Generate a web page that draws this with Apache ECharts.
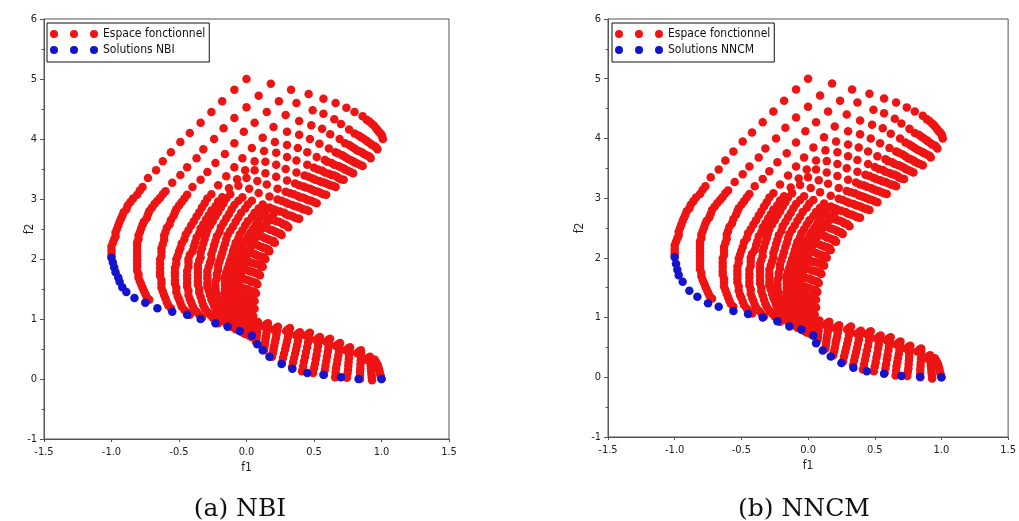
<!DOCTYPE html>
<html>
<head>
<meta charset="utf-8">
<script src="https://cdn.jsdelivr.net/npm/echarts@6/dist/echarts.min.js"></script>
<style>
  html, body { margin: 0; padding: 0; background: #fff; }
  #chart { width: 1019px; height: 521px; }
</style>
</head>
<body>
<div id="chart"></div>
<script>
// axis ticks
const xTicks = [-1.5, -1.0, -0.5, 0.0, 0.5, 1.0, 1.5]
const yTicks = [-1, 0, 1, 2, 3, 4, 5, 6]

// espace fonctionnel : arcs du haut
const arc0 = [[0.00,5.00],[-0.09,4.82],[-0.18,4.63],[-0.26,4.45],[-0.34,4.27],[-0.42,4.10],[-0.49,3.95],[-0.56,3.78],[-0.62,3.63],[-0.67,3.48],[-0.73,3.35],[-0.77,3.20],[-0.79,3.14],[-0.81,3.07],[-0.84,3.01],[-0.86,2.95],[-0.88,2.89],[-0.89,2.83],[-0.91,2.78],[-0.92,2.72],[-0.93,2.67],[-0.94,2.62],[-0.95,2.56],[-0.96,2.50],[-0.97,2.44],[-0.97,2.38],[-0.98,2.33],[-0.99,2.27],[-1.00,2.21],[-1.00,2.15],[-1.00,2.10],[-1.00,2.05]]
const arc1 = [[0.18,4.92],[0.09,4.72],[0.00,4.53],[-0.09,4.35],[-0.17,4.18],[-0.24,4.00],[-0.32,3.83],[-0.37,3.68],[-0.44,3.53],[-0.49,3.40],[-0.55,3.27],[-0.60,3.13],[-0.62,3.08],[-0.64,3.02],[-0.66,2.97],[-0.68,2.92],[-0.70,2.86],[-0.72,2.80],[-0.73,2.74],[-0.74,2.68],[-0.76,2.62],[-0.77,2.57],[-0.78,2.51],[-0.79,2.45],[-0.80,2.39],[-0.80,2.33],[-0.81,2.28],[-0.81,2.22],[-0.81,2.16],[-0.81,2.10],[-0.81,2.04],[-0.81,1.98],[-0.81,1.93],[-0.81,1.87],[-0.81,1.81],[-0.80,1.75],[-0.80,1.69],[-0.79,1.63],[-0.78,1.58],[-0.77,1.52],[-0.76,1.47],[-0.75,1.42],[-0.74,1.37],[-0.72,1.32]]
const arc2 = [[0.33,4.82],[0.24,4.63],[0.15,4.45],[0.06,4.27],[-0.02,4.12],[-0.09,3.93],[-0.16,3.75],[-0.23,3.60],[-0.29,3.45],[-0.34,3.32],[-0.40,3.20],[-0.44,3.07],[-0.46,3.01],[-0.48,2.95],[-0.50,2.89],[-0.52,2.83],[-0.53,2.78],[-0.54,2.72],[-0.56,2.65],[-0.57,2.58],[-0.59,2.52],[-0.60,2.45],[-0.61,2.39],[-0.61,2.32],[-0.62,2.25],[-0.63,2.18],[-0.63,2.12],[-0.63,2.05],[-0.64,1.99],[-0.64,1.92],[-0.64,1.85],[-0.64,1.78],[-0.64,1.72],[-0.63,1.65],[-0.63,1.59],[-0.63,1.52],[-0.62,1.46],[-0.61,1.40],[-0.60,1.34],[-0.59,1.28],[-0.58,1.23],[-0.56,1.18]]
const arc3 = [[0.46,4.75],[0.37,4.60],[0.29,4.40],[0.20,4.20],[0.12,4.02],[0.04,3.85],[-0.03,3.68],[-0.09,3.53],[-0.15,3.38],[-0.21,3.23],[-0.26,3.08],[-0.29,3.01],[-0.31,2.93],[-0.33,2.86],[-0.35,2.78],[-0.37,2.71],[-0.39,2.63],[-0.41,2.56],[-0.43,2.48],[-0.45,2.41],[-0.46,2.33],[-0.48,2.26],[-0.49,2.18],[-0.50,2.12],[-0.51,2.05],[-0.52,1.99],[-0.52,1.92],[-0.53,1.85],[-0.53,1.78],[-0.53,1.72],[-0.53,1.65],[-0.53,1.59],[-0.52,1.52],[-0.52,1.45],[-0.51,1.38],[-0.50,1.33],[-0.49,1.27],[-0.48,1.21],[-0.46,1.15],[-0.44,1.11],[-0.42,1.07]]
const arc4 = [[0.57,4.67],[0.49,4.48],[0.39,4.30],[0.30,4.12],[0.21,3.95],[0.13,3.80],[0.06,3.63],[-0.01,3.48],[-0.07,3.33],[-0.13,3.18],[-0.18,3.03],[-0.21,2.96],[-0.23,2.88],[-0.26,2.81],[-0.28,2.73],[-0.30,2.66],[-0.32,2.58],[-0.34,2.51],[-0.35,2.43],[-0.37,2.36],[-0.38,2.28],[-0.39,2.21],[-0.40,2.13],[-0.42,2.07],[-0.43,2.00],[-0.43,1.94],[-0.43,1.87],[-0.44,1.80],[-0.44,1.73],[-0.44,1.67],[-0.44,1.60],[-0.44,1.54],[-0.43,1.47],[-0.43,1.40],[-0.42,1.33],[-0.41,1.28],[-0.40,1.22],[-0.39,1.17],[-0.37,1.12],[-0.35,1.07],[-0.33,1.02]]
const arc5 = [[0.66,4.60],[0.57,4.42],[0.48,4.23],[0.39,4.07],[0.30,3.90],[0.22,3.77],[0.14,3.62],[0.06,3.48],[0.00,3.35],[-0.06,3.22],[-0.12,3.08],[-0.15,3.01],[-0.17,2.93],[-0.19,2.86],[-0.21,2.78],[-0.23,2.71],[-0.25,2.63],[-0.27,2.56],[-0.29,2.48],[-0.30,2.41],[-0.31,2.33],[-0.32,2.26],[-0.33,2.18],[-0.34,2.11],[-0.34,2.03],[-0.35,1.97],[-0.36,1.90],[-0.36,1.84],[-0.36,1.77],[-0.36,1.70],[-0.36,1.63],[-0.36,1.57],[-0.35,1.50],[-0.35,1.44],[-0.34,1.37],[-0.33,1.30],[-0.32,1.23],[-0.31,1.18],[-0.29,1.12],[-0.27,1.07],[-0.25,1.02],[-0.23,0.98],[-0.21,0.93]]
const arc6 = [[0.74,4.52],[0.65,4.33],[0.56,4.17],[0.47,4.00],[0.38,3.85],[0.30,3.70],[0.22,3.57],[0.14,3.43],[0.08,3.30],[0.02,3.17],[-0.03,3.03],[-0.06,2.97],[-0.09,2.90],[-0.11,2.83],[-0.13,2.75],[-0.15,2.68],[-0.17,2.60],[-0.19,2.53],[-0.20,2.45],[-0.22,2.38],[-0.23,2.30],[-0.24,2.23],[-0.25,2.15],[-0.26,2.08],[-0.26,2.00],[-0.27,1.94],[-0.28,1.87],[-0.29,1.80],[-0.29,1.73],[-0.29,1.67],[-0.29,1.60],[-0.29,1.54],[-0.28,1.47],[-0.27,1.40],[-0.26,1.33],[-0.25,1.28],[-0.24,1.22],[-0.23,1.16],[-0.21,1.10],[-0.19,1.05],[-0.17,1.00],[-0.16,0.95],[-0.14,0.90]]
const arc7 = [[0.80,4.45],[0.70,4.25],[0.62,4.08],[0.54,3.92],[0.45,3.78],[0.37,3.64],[0.29,3.50],[0.22,3.37],[0.15,3.24],[0.09,3.10],[0.04,2.97],[0.01,2.91],[-0.01,2.84],[-0.04,2.77],[-0.06,2.69],[-0.08,2.62],[-0.10,2.54],[-0.12,2.47],[-0.14,2.40],[-0.15,2.33],[-0.16,2.25],[-0.17,2.18],[-0.18,2.10],[-0.19,2.03],[-0.20,1.96],[-0.21,1.89],[-0.21,1.82],[-0.22,1.75],[-0.22,1.68],[-0.23,1.62],[-0.23,1.55],[-0.23,1.49],[-0.22,1.42],[-0.22,1.36],[-0.21,1.29],[-0.20,1.23],[-0.19,1.17],[-0.18,1.12],[-0.17,1.06],[-0.16,1.01],[-0.14,0.96],[-0.13,0.92],[-0.11,0.87]]
const arc8 = [[0.86,4.38],[0.76,4.16],[0.69,4.00],[0.61,3.84],[0.52,3.70],[0.45,3.57],[0.37,3.44],[0.30,3.31],[0.23,3.17],[0.17,3.04],[0.12,2.91],[0.09,2.84],[0.06,2.77],[0.04,2.70],[0.01,2.63],[-0.01,2.56],[-0.03,2.48],[-0.05,2.41],[-0.06,2.34],[-0.08,2.27],[-0.09,2.20],[-0.10,2.13],[-0.11,2.05],[-0.12,1.98],[-0.13,1.91],[-0.14,1.84],[-0.15,1.77],[-0.16,1.70],[-0.16,1.63],[-0.16,1.57],[-0.16,1.50],[-0.16,1.43],[-0.16,1.36],[-0.16,1.30],[-0.15,1.23],[-0.15,1.18],[-0.14,1.12],[-0.13,1.07],[-0.12,1.01],[-0.11,0.97],[-0.10,0.92],[-0.09,0.88],[-0.08,0.83]]
const arc9 = [[0.89,4.32],[0.80,4.09],[0.73,3.93],[0.66,3.78],[0.58,3.65],[0.50,3.52],[0.43,3.39],[0.36,3.26],[0.29,3.12],[0.23,2.99],[0.17,2.86],[0.14,2.79],[0.11,2.72],[0.09,2.65],[0.07,2.58],[0.05,2.51],[0.03,2.44],[0.01,2.37],[-0.01,2.30],[-0.03,2.23],[-0.04,2.16],[-0.05,2.09],[-0.06,2.01],[-0.07,1.94],[-0.08,1.87],[-0.09,1.80],[-0.10,1.73],[-0.11,1.66],[-0.11,1.59],[-0.12,1.53],[-0.12,1.46],[-0.12,1.39],[-0.12,1.32],[-0.12,1.26],[-0.11,1.20],[-0.11,1.15],[-0.11,1.09],[-0.10,1.04],[-0.09,0.98],[-0.08,0.94],[-0.07,0.89],[-0.06,0.85],[-0.05,0.80]]
const arc10 = [[0.93,4.25],[0.85,4.03],[0.78,3.87],[0.71,3.73],[0.63,3.60],[0.56,3.47],[0.49,3.34],[0.42,3.21],[0.35,3.08],[0.29,2.94],[0.22,2.81],[0.20,2.75],[0.17,2.68],[0.15,2.61],[0.12,2.54],[0.10,2.47],[0.08,2.40],[0.06,2.33],[0.04,2.26],[0.03,2.19],[0.01,2.12],[0.00,2.05],[-0.01,1.98],[-0.02,1.91],[-0.03,1.84],[-0.04,1.77],[-0.05,1.69],[-0.06,1.62],[-0.06,1.55],[-0.07,1.49],[-0.07,1.42],[-0.07,1.35],[-0.07,1.28],[-0.07,1.22],[-0.07,1.16],[-0.07,1.11],[-0.07,1.05],[-0.07,1.00],[-0.06,0.95],[-0.05,0.91],[-0.04,0.86],[-0.04,0.82],[-0.03,0.78]]
const arc10b = [[0.91,4.29],[0.83,4.06],[0.76,3.90],[0.68,3.76],[0.60,3.62],[0.53,3.49],[0.46,3.37],[0.39,3.23],[0.32,3.10],[0.26,2.97],[0.20,2.83],[0.14,2.70],[0.09,2.56],[0.05,2.42],[0.01,2.28],[-0.02,2.14],[-0.04,2.00],[-0.06,1.85],[-0.08,1.71],[-0.09,1.57],[-0.10,1.44],[-0.10,1.30],[-0.09,1.18],[-0.09,1.07],[-0.07,0.96],[-0.06,0.87],[-0.04,0.79]]
const arc11 = [[0.96,4.18],[0.89,3.97],[0.82,3.81],[0.75,3.67],[0.68,3.55],[0.61,3.42],[0.54,3.30],[0.47,3.17],[0.40,3.03],[0.34,2.90],[0.28,2.77],[0.22,2.63],[0.17,2.49],[0.13,2.36],[0.09,2.22],[0.06,2.08],[0.03,1.94],[0.01,1.81],[-0.01,1.66],[-0.02,1.51],[-0.03,1.38],[-0.03,1.25],[-0.04,1.13],[-0.04,1.02],[-0.03,0.92],[-0.02,0.83],[-0.01,0.75]]
const arc11b = [[0.945,4.22],[0.87,4.00],[0.80,3.84],[0.73,3.70],[0.65,3.57],[0.58,3.44],[0.51,3.32],[0.44,3.19],[0.38,3.05],[0.31,2.92],[0.25,2.79],[0.19,2.65],[0.14,2.52],[0.10,2.38],[0.06,2.24],[0.03,2.10],[0.01,1.96],[-0.01,1.82],[-0.03,1.68],[-0.04,1.53],[-0.05,1.40],[-0.05,1.27],[-0.06,1.14],[-0.05,1.04],[-0.04,0.93],[-0.03,0.84],[-0.02,0.77]]
const arc12 = [[0.98,4.12],[0.92,3.92],[0.86,3.77],[0.79,3.63],[0.72,3.51],[0.65,3.39],[0.58,3.27],[0.51,3.13],[0.44,3.00],[0.38,2.87],[0.31,2.73],[0.26,2.60],[0.21,2.46],[0.16,2.33],[0.12,2.19],[0.09,2.05],[0.07,1.92],[0.05,1.78],[0.03,1.63],[0.01,1.49],[0.00,1.35],[0.00,1.22],[-0.01,1.10],[-0.01,1.00],[0.00,0.90],[0.00,0.81],[0.01,0.74]]
const arc12b = [[0.97,4.15],[0.90,3.95],[0.84,3.79],[0.77,3.65],[0.70,3.53],[0.63,3.40],[0.56,3.28],[0.49,3.15],[0.42,3.02],[0.36,2.88],[0.29,2.75],[0.24,2.62],[0.19,2.48],[0.14,2.34],[0.11,2.20],[0.07,2.07],[0.05,1.93],[0.03,1.79],[0.01,1.65],[0.00,1.50],[-0.02,1.37],[-0.02,1.23],[-0.02,1.11],[-0.02,1.01],[-0.02,0.91],[-0.01,0.82],[0.00,0.75]]
const arc13 = [[1.00,4.07],[0.95,3.88],[0.89,3.73],[0.82,3.59],[0.75,3.47],[0.68,3.35],[0.62,3.23],[0.55,3.10],[0.48,2.97],[0.42,2.83],[0.35,2.70],[0.29,2.57],[0.24,2.43],[0.20,2.30],[0.16,2.16],[0.13,2.03],[0.10,1.89],[0.08,1.76],[0.06,1.61],[0.05,1.46],[0.03,1.33],[0.03,1.19],[0.02,1.08],[0.02,0.97],[0.02,0.87],[0.02,0.79],[0.03,0.72]]
const arc13b = [[0.99,4.10],[0.93,3.90],[0.87,3.75],[0.80,3.61],[0.73,3.49],[0.67,3.37],[0.60,3.25],[0.53,3.12],[0.46,2.98],[0.40,2.85],[0.33,2.72],[0.27,2.58],[0.22,2.45],[0.18,2.31],[0.14,2.18],[0.11,2.04],[0.09,1.91],[0.06,1.77],[0.04,1.62],[0.03,1.47],[0.02,1.34],[0.01,1.21],[0.01,1.09],[0.00,0.99],[0.01,0.88],[0.01,0.80],[0.02,0.73]]
const arc14 = [[1.01,4.00],[0.97,3.83],[0.92,3.68],[0.86,3.55],[0.79,3.43],[0.72,3.32],[0.66,3.20],[0.59,3.07],[0.52,2.93],[0.46,2.80],[0.39,2.67],[0.31,2.53],[0.26,2.40],[0.21,2.27],[0.17,2.13],[0.14,2.00],[0.12,1.87],[0.10,1.73],[0.08,1.58],[0.07,1.43],[0.06,1.30],[0.06,1.17],[0.05,1.05],[0.04,0.95],[0.04,0.85],[0.04,0.77],[0.04,0.70]]
const arc14b = [[1.005,4.04],[0.96,3.86],[0.91,3.71],[0.84,3.57],[0.77,3.45],[0.70,3.33],[0.64,3.22],[0.57,3.08],[0.50,2.95],[0.44,2.82],[0.37,2.68],[0.30,2.55],[0.25,2.42],[0.20,2.28],[0.16,2.15],[0.13,2.01],[0.11,1.88],[0.09,1.75],[0.07,1.60],[0.06,1.45],[0.05,1.31],[0.04,1.18],[0.03,1.06],[0.03,0.96],[0.03,0.86],[0.03,0.78],[0.03,0.71]]

// espace fonctionnel : dents du bas
const tooth1 = [[0.070,0.62],[0.072,0.66],[0.074,0.70],[0.076,0.74],[0.078,0.78],[0.080,0.83],[0.081,0.87],[0.083,0.91],[0.085,0.95],[0.070,0.93],[0.056,0.90]]
const tooth2 = [[0.130,0.48],[0.134,0.54],[0.137,0.60],[0.140,0.66],[0.144,0.71],[0.148,0.77],[0.152,0.82],[0.156,0.88],[0.159,0.93],[0.145,0.91],[0.130,0.88]]
const tooth3 = [[0.189,0.37],[0.195,0.43],[0.200,0.49],[0.206,0.56],[0.211,0.62],[0.217,0.68],[0.222,0.74],[0.228,0.81],[0.233,0.87],[0.219,0.85],[0.204,0.82]]
const tooth4 = [[0.263,0.27],[0.270,0.35],[0.278,0.42],[0.286,0.49],[0.293,0.56],[0.300,0.63],[0.307,0.70],[0.315,0.78],[0.322,0.85],[0.308,0.83],[0.293,0.80]]
const tooth5 = [[0.337,0.20],[0.345,0.28],[0.352,0.35],[0.360,0.42],[0.367,0.49],[0.374,0.56],[0.381,0.63],[0.389,0.71],[0.396,0.78],[0.382,0.76],[0.367,0.73]]
const tooth6 = [[0.411,0.13],[0.419,0.21],[0.426,0.29],[0.434,0.37],[0.441,0.45],[0.449,0.53],[0.456,0.61],[0.463,0.69],[0.470,0.77],[0.456,0.75],[0.441,0.72]]
const tooth7 = [[0.493,0.10],[0.500,0.18],[0.507,0.25],[0.513,0.33],[0.519,0.40],[0.525,0.48],[0.530,0.55],[0.537,0.63],[0.544,0.70],[0.530,0.68],[0.515,0.65]]
const tooth8 = [[0.574,0.07],[0.580,0.15],[0.585,0.22],[0.591,0.30],[0.596,0.37],[0.602,0.45],[0.607,0.52],[0.613,0.60],[0.619,0.67],[0.604,0.65],[0.589,0.62]]
const tooth9 = [[0.656,0.03],[0.660,0.11],[0.663,0.18],[0.669,0.25],[0.674,0.32],[0.680,0.39],[0.685,0.46],[0.689,0.53],[0.693,0.60],[0.678,0.58],[0.663,0.55]]
const tooth10 = [[0.744,0.02],[0.748,0.09],[0.752,0.15],[0.754,0.22],[0.756,0.28],[0.758,0.34],[0.759,0.40],[0.763,0.47],[0.767,0.53],[0.752,0.51],[0.737,0.48]]
const tooth11 = [[0.841,0.00],[0.841,0.06],[0.841,0.12],[0.843,0.18],[0.844,0.24],[0.846,0.31],[0.848,0.37],[0.848,0.43],[0.848,0.48],[0.834,0.46],[0.819,0.43]]
const tooth12 = [[0.930,-0.02],[0.928,0.03],[0.926,0.08],[0.924,0.13],[0.922,0.18],[0.920,0.23],[0.919,0.27],[0.917,0.32],[0.915,0.37],[0.900,0.35],[0.885,0.32]]
const tooth13 = [[1.000,0.00],[0.995,0.04],[0.990,0.08],[0.985,0.13],[0.980,0.17],[0.975,0.21],[0.970,0.24],[0.960,0.28],[0.950,0.32]]

// solutions
const nbiFront = [[-1.00,2.02],[-0.99,1.94],[-0.98,1.86],[-0.97,1.78],[-0.95,1.69],[-0.94,1.62],[-0.92,1.53],[-0.89,1.45],[-0.83,1.35],[-0.75,1.27],[-0.66,1.18],[-0.55,1.12],[-0.44,1.07],[-0.34,1.00],[-0.23,0.93],[-0.14,0.87],[-0.05,0.80],[0.04,0.72],[0.08,0.58],[0.12,0.48],[0.17,0.37],[0.26,0.25],[0.34,0.17],[0.45,0.10],[0.57,0.07],[0.70,0.03],[0.83,0.00],[1.00,0.00]]
const nncmFront = [[-1.00,2.01],[-0.99,1.90],[-0.98,1.80],[-0.97,1.71],[-0.94,1.60],[-0.89,1.45],[-0.83,1.35],[-0.75,1.24],[-0.67,1.18],[-0.56,1.11],[-0.45,1.06],[-0.34,1.00],[-0.23,0.94],[-0.14,0.85],[-0.05,0.80],[0.04,0.70],[0.06,0.57],[0.11,0.45],[0.17,0.35],[0.25,0.24],[0.34,0.16],[0.44,0.10],[0.57,0.06],[0.70,0.02],[0.84,0.01],[1.00,0.00]]

const espace = [].concat(arc0, arc1, arc2, arc3, arc4, arc5, arc6, arc7, arc8, arc9, arc10, arc10b,
  arc11, arc11b, arc12, arc12b, arc13, arc13b, arc14, arc14b,
  tooth1, tooth2, tooth3, tooth4, tooth5, tooth6, tooth7, tooth8, tooth9, tooth10, tooth11, tooth12, tooth13)

const RED = '#ee1414'
const BLUE = '#1414cc'
const FONT = "'Liberation Sans Narrow', 'DejaVu Sans Condensed', sans-serif"
const dots3 = 'path://M0,4A4,4,0,1,0,8,4A4,4,0,1,0,0,4Z M20,4A4,4,0,1,0,28,4A4,4,0,1,0,20,4Z M40,4A4,4,0,1,0,48,4A4,4,0,1,0,40,4Z'

function xAxisOf(gridIndex) {
  return {
    gridIndex,
    type: 'value',
    min: xTicks[0],
    max: xTicks[xTicks.length - 1],
    interval: xTicks[1] - xTicks[0],
    name: 'f1',
    nameLocation: 'middle',
    nameGap: 23,
    nameMoveOverlap: false,
    nameTextStyle: { fontFamily: FONT, fontSize: 12, color: '#222' },
    axisLine: { onZero: false, lineStyle: { color: '#555' } },
    axisTick: { length: 3, lineStyle: { color: '#555' } },
    axisLabel: { margin: 8, fontFamily: FONT, fontSize: 11, color: '#222', formatter: v => v.toFixed(1) },
    splitLine: { show: false }
  }
}

function yAxisOf(gridIndex, nameGap) {
  return {
    gridIndex,
    type: 'value',
    min: yTicks[0],
    max: yTicks[yTicks.length - 1],
    interval: yTicks[1] - yTicks[0],
    name: 'f2',
    nameLocation: 'middle',
    nameGap,
    nameMoveOverlap: false,
    nameTextStyle: { fontFamily: FONT, fontSize: 12, color: '#222' },
    axisLine: { onZero: false, lineStyle: { color: '#555' } },
    axisTick: { length: 4, lineStyle: { color: '#555' } },
    minorTick: { show: true, splitNumber: 2, length: 2.5, lineStyle: { color: '#555' } },
    axisLabel: { margin: 7, fontFamily: FONT, fontSize: 11, color: '#222' },
    splitLine: { show: false }
  }
}

function legendOf(left, solName) {
  return {
    left,
    top: 23,
    orient: 'vertical',
    data: ['Espace fonctionnel', solName],
    icon: dots3,
    itemWidth: 48,
    itemHeight: 8,
    itemGap: 4,
    padding: [5, 4, 6, 3],
    borderColor: '#111',
    borderWidth: 1,
    borderRadius: 0,
    backgroundColor: '#fff',
    selectedMode: false,
    textStyle: { fontFamily: FONT, fontSize: 12, color: '#111' }
  }
}

const chart = echarts.init(document.getElementById('chart'))
chart.setOption({
  animation: false,
  backgroundColor: '#fff',
  title: [
    { text: '(a) NBI', left: 235, top: 492, textAlign: 'center',
      textStyle: { fontFamily: 'DejaVu Serif', fontSize: 25, fontWeight: 'normal', color: '#111' } },
    { text: '(b) NNCM', left: 799, top: 492, textAlign: 'center',
      textStyle: { fontFamily: 'DejaVu Serif', fontSize: 25, fontWeight: 'normal', color: '#111' } }
  ],
  grid: [
    { left: 44, top: 19, width: 405, height: 420, show: true, borderColor: '#555', borderWidth: 1, backgroundColor: 'transparent' },
    { left: 608, top: 19, width: 406, height: 418, show: true, borderColor: '#555', borderWidth: 1, backgroundColor: 'transparent' }
  ],
  xAxis: [xAxisOf(0), xAxisOf(1)],
  yAxis: [yAxisOf(0, 8), yAxisOf(1, 22)],
  legend: [legendOf(47, 'Solutions NBI'), legendOf(612, 'Solutions NNCM')],
  series: [
    { name: 'Espace fonctionnel', type: 'scatter', xAxisIndex: 0, yAxisIndex: 0, data: espace,
      symbolSize: 8.5, itemStyle: { color: RED, opacity: 1 } },
    { name: 'Solutions NBI', type: 'scatter', xAxisIndex: 0, yAxisIndex: 0, data: nbiFront,
      symbolSize: 8.5, itemStyle: { color: BLUE, opacity: 1 } },
    { name: 'Espace fonctionnel', type: 'scatter', xAxisIndex: 1, yAxisIndex: 1, data: espace,
      symbolSize: 8.5, itemStyle: { color: RED, opacity: 1 } },
    { name: 'Solutions NNCM', type: 'scatter', xAxisIndex: 1, yAxisIndex: 1, data: nncmFront,
      symbolSize: 8.5, itemStyle: { color: BLUE, opacity: 1 } }
  ]
})
</script>
</body>
</html>
